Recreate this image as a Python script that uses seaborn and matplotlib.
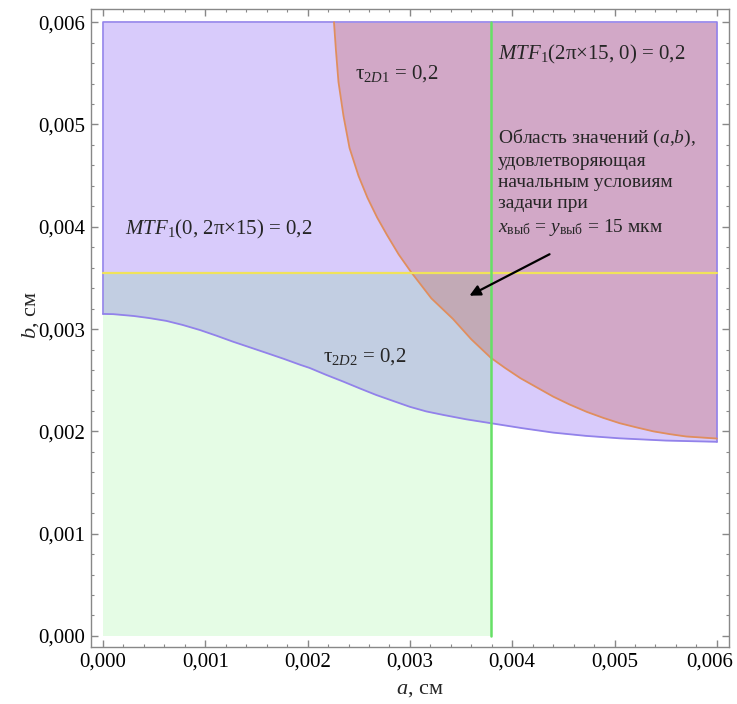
#!/usr/bin/env python3
"""
Область допустимых значений (a, b) для MTF / tau ограничений.
"""

import matplotlib
matplotlib.use("Agg")
import matplotlib.pyplot as plt
import matplotlib.transforms as mtransforms
from matplotlib.ticker import AutoMinorLocator, FixedLocator, FixedFormatter
import seaborn as sns

sns.set_theme(style="ticks")
plt.rcParams["font.family"] = ["Liberation Serif", "DejaVu Serif"]
plt.rcParams["mathtext.fontset"] = "custom"
plt.rcParams["mathtext.rm"] = "Liberation Serif"
plt.rcParams["mathtext.it"] = "Liberation Serif:italic"

# tau_2D2 = 0,2 (нижняя граница фиолетовой области)
tau2_a = [0.0, 0.0001, 0.0003, 0.00045, 0.00062, 0.00078, 0.00095, 0.00111,
          0.00127, 0.00144, 0.0016, 0.00177, 0.00193, 0.00202, 0.00218,
          0.00235, 0.00251, 0.00267, 0.00284, 0.0030, 0.00316, 0.00333,
          0.00355, 0.00379, 0.0041, 0.0044, 0.00472, 0.00505, 0.0055, 0.006]
tau2_b = [0.003148, 0.003146, 0.003128, 0.003108, 0.00308, 0.00304, 0.00299,
          0.002935, 0.002877, 0.00282, 0.002766, 0.002708, 0.00265, 0.00262,
          0.002553, 0.002486, 0.00242, 0.002356, 0.002296, 0.00224, 0.002195,
          0.00216, 0.002118, 0.00208, 0.002031, 0.001988, 0.001956, 0.001932,
          0.00191, 0.001898]

# tau_2D1 = 0,2 (граница красной области)
tau1_a = [0.002258, 0.002277, 0.002302, 0.002351, 0.00241, 0.002498, 0.002586,
          0.00268, 0.002776, 0.00289, 0.003011, 0.00321, 0.00342, 0.0036,
          0.00379, 0.00393, 0.00408, 0.00424, 0.0044, 0.00456, 0.00473,
          0.00489, 0.00505, 0.00521, 0.00538, 0.00554, 0.0057, 0.00585, 0.006]
tau1_b = [0.006, 0.005728, 0.005415, 0.005083, 0.00477, 0.004497, 0.004282,
          0.00409, 0.00392, 0.00373, 0.003558, 0.00330, 0.0031, 0.00290,
          0.00272, 0.00262, 0.00252, 0.00243, 0.00234, 0.002263, 0.00219,
          0.002132, 0.00208, 0.00204, 0.0020, 0.001973, 0.00195, 0.00194,
          0.00193]

a_max = 0.006
b_max = 0.006
mtf_x_a = 0.00379   # MTF1(2pi x 15, 0) = 0,2
mtf_y_b = 0.00355   # MTF1(0, 2pi x 15) = 0,2

tick_vals = [0.0, 0.001, 0.002, 0.003, 0.004, 0.005, 0.006]
tick_labels = ["0,000", "0,001", "0,002", "0,003", "0,004", "0,005", "0,006"]

fig = plt.figure(figsize=(7.37, 7.04), dpi=100)
ax = fig.add_axes([91 / 737, 57 / 704, 638 / 737, 638 / 704])

# regions
ax.fill_between(tau2_a, tau2_b, b_max, color="#8055f2", alpha=0.3, lw=0, zorder=1)
ax.fill_between([0.0, mtf_x_a], 0.0, mtf_y_b, color="#11ec11", alpha=0.105, lw=0, zorder=2)
ax.fill_between(tau1_a, tau1_b, b_max, color="#c55751", alpha=0.3, lw=0, zorder=3)

# region edges
edge = "#9282ea"
ax.plot([0, 0, a_max, a_max], [tau2_b[0], b_max, b_max, tau2_b[-1]], color=edge, lw=1.2, zorder=4)
sns.lineplot(x=tau2_a, y=tau2_b, sort=False, color=edge, lw=1.3, ax=ax, zorder=4)
sns.lineplot(x=tau1_a, y=tau1_b, sort=False, color="#e08e5e", lw=1.3, ax=ax, zorder=5)

# MTF lines
ax.plot([0, a_max], [mtf_y_b, mtf_y_b], color="#f0e35a", lw=1.6, zorder=6)
ax.plot([mtf_x_a, mtf_x_a], [0, b_max], color="#66e066", lw=1.8, zorder=6)

# labels
fs = 15
ax.text(0.000215, 0.00397, r"$\mathit{MTF}_\mathrm{1}$(0, 2π×15) = 0,2", fontsize=fs,
        ha="left", va="center", zorder=7)
ax.text(0.00246, 0.00550, r"τ$_{2\mathit{D}1}$ = 0,2", fontsize=fs,
        ha="left", va="center", zorder=7)
ax.text(0.00215, 0.00273, r"τ$_{2\mathit{D2}}$ = 0,2", fontsize=fs,
        ha="left", va="center", zorder=7)
ax.text(0.00386, 0.00568, r"$\mathit{MTF}_\mathrm{1}$(2π×15, 0) = 0,2", fontsize=fs,
        ha="left", va="center", zorder=7)
ax.text(0.00386, 0.00443,
        "Область значений ($a$,$b$),\nудовлетворяющая\nначальным условиям\nзадачи при\n"
        r"$x_\mathrm{выб}$ = $y_\mathrm{выб}$ = 15 мкм",
        fontsize=14, ha="left", va="center", linespacing=1.32, zorder=7)
ax.annotate("", xy=(0.003558, 0.003314), xytext=(0.004389, 0.003744),
            arrowprops=dict(arrowstyle="-|>", color="black", lw=1.6, mutation_scale=16),
            zorder=8)

# axes
ax.set_xlim(-0.000117, 0.006119)
ax.set_ylim(-0.000108, 0.006129)
for axis in (ax.xaxis, ax.yaxis):
    axis.set_major_locator(FixedLocator(tick_vals))
    axis.set_major_formatter(FixedFormatter(tick_labels))
    axis.set_minor_locator(AutoMinorLocator(5))
ax.tick_params(which="both", direction="in", top=True, right=True, color="#888888",
               labelsize=15, labelcolor="black", pad=4)
ax.tick_params(which="major", length=5, width=1)
ax.tick_params(which="minor", length=2.5, width=0.8)
for sp in ax.spines.values():
    sp.set_color("#888888")
    sp.set_linewidth(1)

# last x label shifted left so it stays inside the figure
fig.canvas.draw()
last = ax.get_xticklabels()[-1]
last.set_transform(last.get_transform() + mtransforms.ScaledTranslation(-7 / 100, 0, fig.dpi_scale_trans))

ax.set_xlabel("$a$, см", fontsize=16)
ax.set_ylabel("$b$, см", fontsize=16)
ax.xaxis.set_label_coords(0.516, -0.052)
ax.yaxis.set_label_coords(-0.078, 0.52)

fig.savefig("out.png", dpi=100)
